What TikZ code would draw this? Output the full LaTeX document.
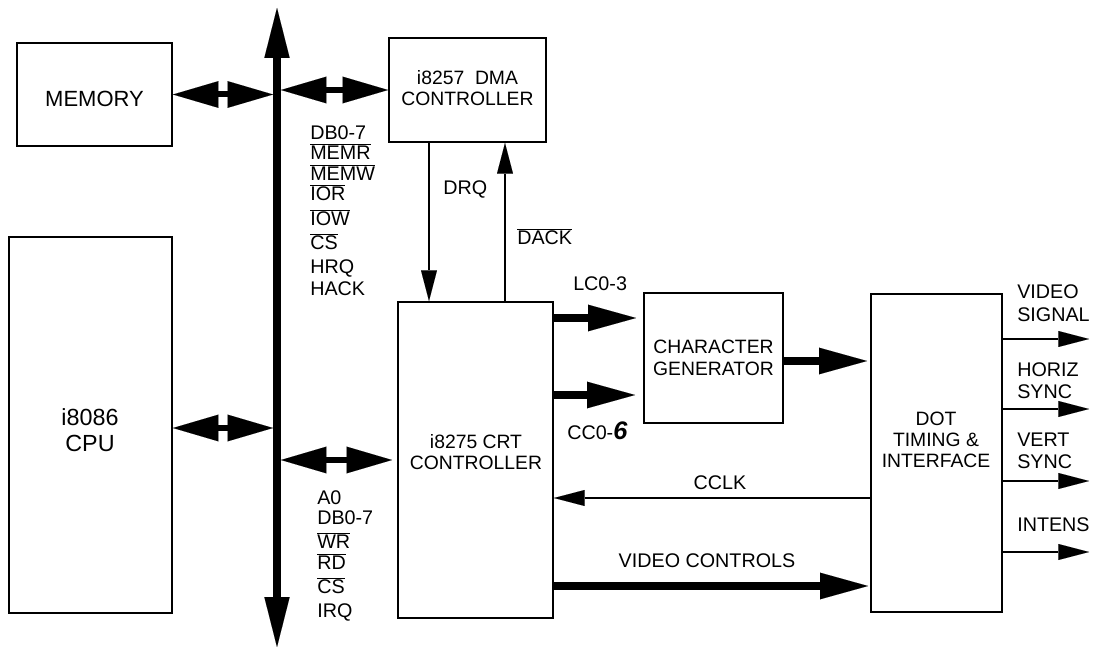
\documentclass[tikz,border=0pt]{standalone}
\usepackage{fontspec}
\setmainfont{Liberation Sans}
\usetikzlibrary{arrows.meta,calc}
\newcommand\ovl[1]{$\overline{\mbox{#1}}$}
\begin{document}
\begin{tikzpicture}[x=0.75pt,y=-0.75pt,
  box/.style={draw,line width=1.5pt,inner sep=0pt},
  txt/.style={font=\fontsize{14.5}{16}\selectfont, inner sep=0pt, align=center},
  lab/.style={font=\fontsize{14.8}{16}\selectfont, inner sep=0pt, anchor=base west},
  bus/.style={line width=6pt,{Triangle[length=37.5pt,width=19pt,line width=0.01pt]}-{Triangle[length=37.5pt,width=19pt,line width=0.01pt]}},
  dbl/.style={line width=4.5pt,{Triangle[length=34pt,width=20pt,line width=0.01pt]}-{Triangle[length=34pt,width=20pt,line width=0.01pt]}},
  fat/.style={line width=6.5pt,-{Triangle[length=36pt,width=20pt,line width=0.01pt]}},
  thinarr/.style={line width=1.5pt,-{Triangle[length=23pt,width=12pt,line width=0.01pt]}},
]
\useasboundingbox (0,0) rectangle (1093,648);

% boxes
\node[box, minimum width=116.25pt, minimum height=77.25pt] (mem) at (94.5,94.5) {};
\node[box, minimum width=122.25pt, minimum height=282pt] (cpu) at (90.5,425) {};
\node[box, minimum width=117.75pt, minimum height=78pt] (dma) at (467.5,90) {};
\node[box, minimum width=116.25pt, minimum height=237pt] (crt) at (475.5,460) {};
\node[box, minimum width=104.25pt, minimum height=97.5pt] (chg) at (713.5,358) {};
\node[box, minimum width=98.25pt, minimum height=238.5pt] (dot) at (936.5,453) {};

% box texts
\node[txt, font=\fontsize{16.5}{19}\selectfont] (memt) at (94.5,99) {MEMORY};
\node[txt, font=\fontsize{17.5}{19}\selectfont] (cput) at (90,430) {i8086\\CPU};
\node[txt] (dmat) at (467.5,88) {i8257\ \ DMA\\CONTROLLER};
\node[txt] (crtt) at (476,452) {i8275 CRT\\CONTROLLER};
\node[txt] (chgt) at (713.5,358) {CHARACTER\\GENERATOR};
\node[txt] (dott) at (936,440) {DOT\\TIMING \&\\INTERFACE};

% system bus
\coordinate (bt) at (277,8);
\coordinate (bb) at (277,647);
\draw[bus] (bt) -- (bb);
\coordinate (busL) at (273,0);
\coordinate (busR) at (281,0);

\draw[dbl] (mem.east) -- (mem.east -| busL);
\draw[dbl] (dma.west -| busR) -- (dma.west);
\draw[dbl] ([yshift=-2.25pt]cpu.east) -- ([yshift=-2.25pt]cpu.east -| busL);
\coordinate (crtin) at ($(crt.west)+(-5,0)$);
\draw[dbl] (crtin -| busR) -- (crtin);

% DMA handshake
\coordinate (drq) at ($(dma.south west)+(41,0)$);
\draw[thinarr] (drq) -- (drq |- crt.north);
\coordinate (dack) at ($(crt.north west)+(108,0)$);
\draw[thinarr] (dack) -- (dack |- dma.south);

% CRT to character generator
\coordinate (lc) at ($(crt.north east)+(0,17)$);
\draw[fat] (lc) -- ($(lc -| chg.west)+(-7,0)$);
\coordinate (cc) at ($(crt.north east)+(0,94)$);
\draw[fat] (cc) -- ($(cc -| chg.west)+(-8,0)$);

% char gen to dot timing
\coordinate (cg) at ($(chg.east)+(0,3)$);
\draw[fat] (cg) -- ($(cg -| dot.west)+(-3,0)$);

% CCLK
\coordinate (ck) at ($(dot.north west)+(0,205)$);
\draw[thinarr] (ck) -- (ck -| crt.east);

% video controls
\coordinate (vc) at ($(crt.north east)+(0,285)$);
\draw[fat] (vc) -- ($(vc -| dot.west)+(-2,0)$);

% outputs
\foreach \n/\dy in {vs/46, hs/116, vy/188, in/259} {
  \coordinate (o\n) at ($(dot.north east)+(0,\dy)$);
  \coordinate (e\n) at ($(o\n)+(86,0)$);
  \draw[thinarr] (o\n) -- (e\n);
}

% bus labels (DMA side)
\foreach \t/\y [count=\i] in {DB0-7/140, \ovl{MEMR}/160, \ovl{MEMW}/181, \ovl{IOR}/201, \ovl{IOW}/226, \ovl{CS}/250, HRQ/274, HACK/296} {
  \node[lab, name=tl\i] at (310,\y) {\t};
}
% bus labels (CRT side)
\foreach \t/\y [count=\i] in {A0/504, DB0-7/525, \ovl{WR}/549, \ovl{RD}/570, \ovl{CS}/594, IRQ/617} {
  \node[lab, name=bl\i] at (317,\y) {\t};
}

% signal labels
\node[lab] (drql) at (443,195) {DRQ};
\node[lab] (dackl) at (517,245) {\ovl{DACK}};
\node[lab] (lcl) at (573,291) {LC0-3};
\node[lab] (ccl) at (567,440) {CC0-{\fontsize{19}{19}\selectfont\bfseries\itshape 6}};
\node[lab, anchor=base] (cclkl) at (720,489) {CCLK};
\node[lab, anchor=base] (vcl) at (707,567) {VIDEO CONTROLS};

\node[lab] (o1a) at (1017,299) {VIDEO};
\node[lab] (o1b) at (1017,322) {SIGNAL};
\node[lab] (o2a) at (1017,377) {HORIZ};
\node[lab] (o2b) at (1017,399) {SYNC};
\node[lab] (o3a) at (1017,447) {VERT};
\node[lab] (o3b) at (1017,469) {SYNC};
\node[lab] (o4a) at (1017,532) {INTENS};
\end{tikzpicture}
\end{document}
